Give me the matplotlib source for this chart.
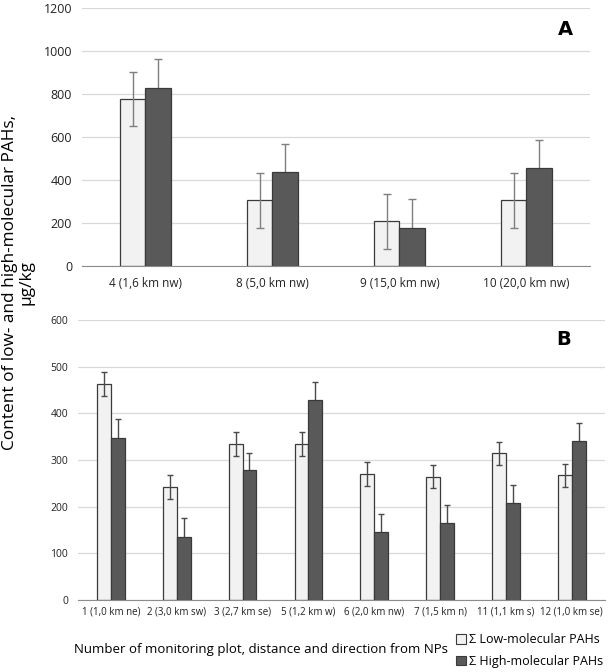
import numpy as np
import matplotlib.pyplot as plt
from matplotlib.patches import Patch

plt.rcParams['font.family'] = ['Open Sans', 'DejaVu Sans']

# panel A
cats_a = ["4 (1,6 km nw)", "8 (5,0 km nw)", "9 (15,0 km nw)", "10 (20,0 km nw)"]
low_a = [775, 305, 207, 305]
low_a_err = [126, 128, 128, 128]
high_a = [828, 435, 175, 455]
high_a_err = [134, 133, 135, 133]

# panel B
cats_b = ["1 (1,0 km ne)", "2 (3,0 km sw)", "3 (2,7 km se)", "5 (1,2 km w)",
          "6 (2,0 km nw)", "7 (1,5 km n)", "11 (1,1 km s)", "12 (1,0 km se)"]
low_b = [463, 242, 335, 335, 270, 264, 314, 267]
low_b_err = [26, 26, 26, 26, 25, 25, 24, 25]
high_b = [348, 135, 278, 429, 145, 164, 207, 341]
high_b_err = [40, 40, 38, 39, 39, 39, 39, 39]

light = "#f2f2f2"
dark = "#595959"
edge = "#3a3a3a"

fig = plt.figure(figsize=(6.09, 6.72), dpi=100)
ax1 = fig.add_axes([0.1346, 0.6042, 0.834, 0.384])
ax2 = fig.add_axes([0.128, 0.1071, 0.865, 0.4167])


def draw(ax, cats, low, low_err, high, high_err, w, ecol, cap, xsize, ysize):
    x = np.arange(len(cats))
    ax.bar(x - w / 2, low, w, color=light, edgecolor=edge, linewidth=0.9, zorder=2)
    ax.bar(x + w / 2, high, w, color=dark, edgecolor=edge, linewidth=0.9, zorder=2)
    ax.errorbar(x - w / 2, low, yerr=low_err, fmt="none", ecolor=ecol,
                elinewidth=1.0, capsize=cap, capthick=1.0, zorder=3)
    # lower half of the dark bar's error bar is hidden behind the bar
    ax.errorbar(x + w / 2, high, yerr=high_err, fmt="none", ecolor=ecol,
                elinewidth=1.0, capsize=cap, capthick=1.0, zorder=1.5)
    ax.set_xticks(x)
    ax.set_xticklabels(cats, fontsize=xsize)
    ax.set_xlim(-0.5, len(cats) - 0.5)
    ax.yaxis.grid(True, color="#d9d9d9", linewidth=0.9, zorder=0)
    ax.set_axisbelow(True)
    for s in ["top", "right", "left"]:
        ax.spines[s].set_visible(False)
    ax.spines["bottom"].set_color("#8c8c8c")
    ax.tick_params(axis="both", length=0, colors="#222222")
    ax.tick_params(axis="y", labelsize=ysize)


draw(ax1, cats_a, low_a, low_a_err, high_a, high_a_err, 0.2, "#7f7f7f", 3, 8.5, 9)
ax1.set_ylim(0, 1200)
ax1.set_yticks(range(0, 1201, 200))
ax1.tick_params(axis="y", pad=7)
ax1.tick_params(axis="x", pad=8)
ax1.text(0.951, 0.915, "A", transform=ax1.transAxes, fontsize=14,
         fontweight="bold", ha="center", va="center", family="DejaVu Sans")

draw(ax2, cats_b, low_b, low_b_err, high_b, high_b_err, 0.21, "#4a4a4a", 2.5, 7, 7.5)
ax2.set_ylim(0, 600)
ax2.set_yticks(range(0, 601, 100))
ax2.tick_params(axis="y", pad=7)
ax2.tick_params(axis="x", pad=5)
ax2.text(0.922, 0.929, "B", transform=ax2.transAxes, fontsize=14,
         fontweight="bold", ha="center", va="center", family="DejaVu Sans")

fig.text(0.03, 0.58, "Content of low- and high-molecular PAHs,\nμg/kg",
         rotation=90, ha="center", va="center", fontsize=12.4,
         linespacing=1.05)
fig.text(0.1215, 0.033, "Number of monitoring plot, distance and direction from NPs",
         ha="left", va="center", fontsize=9.5)

handles = [Patch(facecolor=light, edgecolor=edge, linewidth=0.8),
           Patch(facecolor=dark, edgecolor=edge, linewidth=0.8)]
fig.legend(handles, ["Σ Low-molecular PAHs", "Σ High-molecular PAHs"],
           loc="center left", bbox_to_anchor=(0.748, 0.032), frameon=False,
           fontsize=9, handlelength=0.8, handleheight=0.8, handletextpad=0.25,
           labelspacing=0.7, borderaxespad=0, borderpad=0)

fig.savefig("out.png", dpi=100)
